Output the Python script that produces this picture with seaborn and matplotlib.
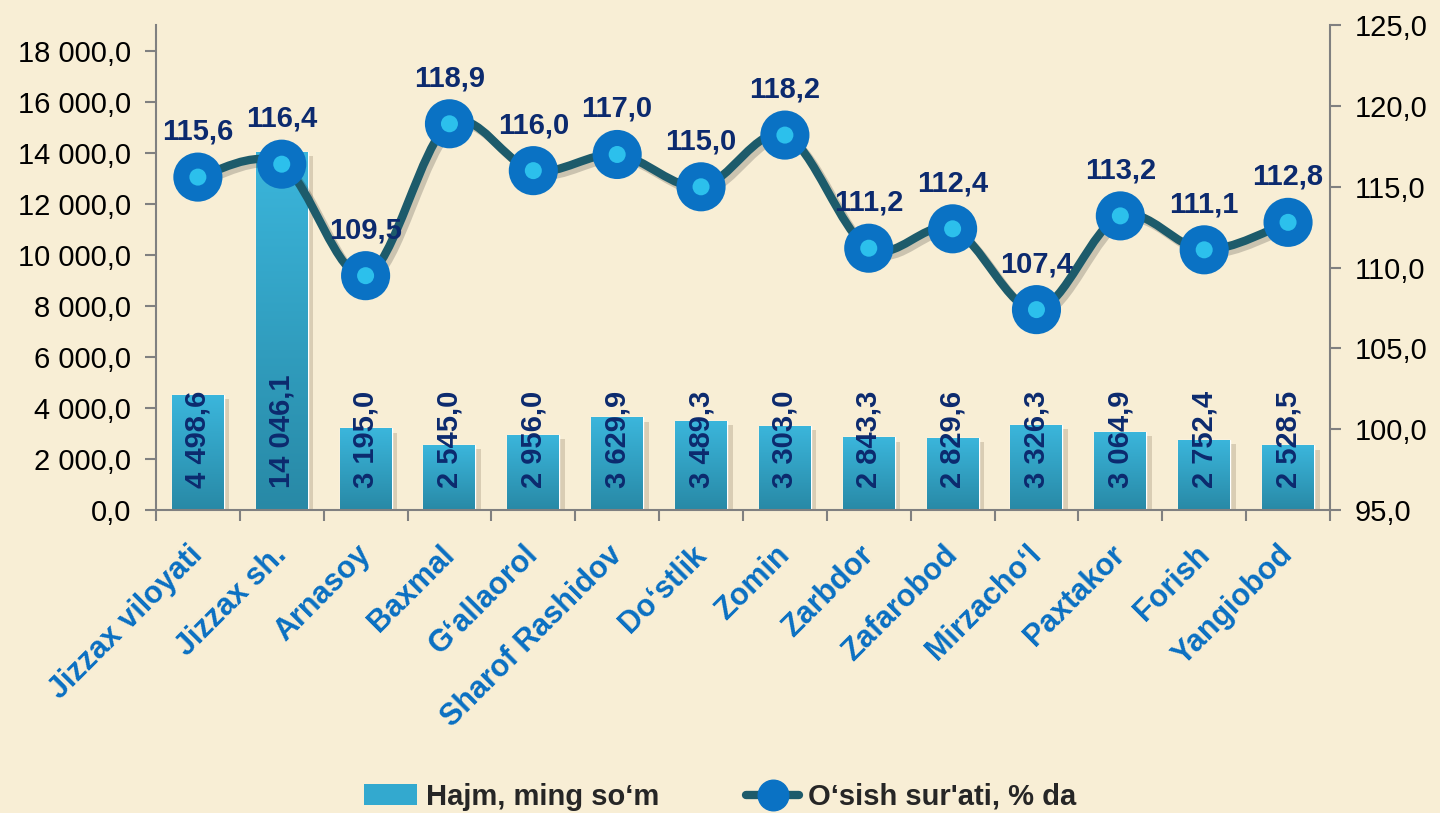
import numpy as np
import pandas as pd
import matplotlib.pyplot as plt
import seaborn as sns
from matplotlib.path import Path
from matplotlib.patches import PathPatch, Patch
from matplotlib.lines import Line2D
from matplotlib.colors import LinearSegmentedColormap
from matplotlib.ticker import FuncFormatter, MultipleLocator
from matplotlib.transforms import ScaledTranslation
import matplotlib.patheffects as pe

districts = ["Jizzax viloyati", "Jizzax sh.", "Arnasoy", "Baxmal", "G‘allaorol",
             "Sharof Rashidov", "Do‘stlik", "Zomin", "Zarbdor", "Zafarobod",
             "Mirzacho‘l", "Paxtakor", "Forish", "Yangiobod"]
volume = [4498.6, 14046.1, 3195.0, 2545.0, 2956.0, 3629.9, 3489.3, 3303.0,
          2843.3, 2829.6, 3326.3, 3064.9, 2752.4, 2528.5]
growth = [115.6, 116.4, 109.5, 118.9, 116.0, 117.0, 115.0, 118.2,
          111.2, 112.4, 107.4, 113.2, 111.1, 112.8]

bar_name = "Hajm, ming so‘m"
line_name = "O‘sish sur'ati, % da"

df = pd.DataFrame({"district": districts, "volume": volume, "growth": growth})

BG = "#f8eed5"
BAR = "#33a9cf"
LINE = "#1d5b6b"
MARK = "#0a72c4"
MARK_IN = "#2cc0ec"
NAVY = "#0c2a6e"
XLAB = "#0a70c2"
SPINE = "#808080"

sns.set_theme(style="white")
plt.rcParams["font.family"] = ["Liberation Sans", "DejaVu Sans"]

fig = plt.figure(figsize=(14.4, 8.13), dpi=100, facecolor=BG)
ax = fig.add_axes([0.1083, 0.3727, 0.8153, 0.5963])
ax.set_facecolor(BG)

sns.barplot(data=df, x="district", y="volume", color=BAR, width=0.62,
            saturation=1, ax=ax, zorder=2)

# vertical gradient fill for every bar, clipped to the bar shape
grad = LinearSegmentedColormap.from_list("bar", ["#2889a6", "#3bb6dc"])
for p in ax.patches:
    p.set_path_effects([pe.SimplePatchShadow(offset=(4, -3), alpha=0.22,
                                             shadow_rgbFace="#6b5a40"),
                        pe.Normal()])
    x0, y0 = p.get_x(), p.get_y()
    w, h = p.get_width(), p.get_height()
    im = ax.imshow(np.linspace(0, 1, 256).reshape(-1, 1), cmap=grad,
                   extent=(x0, x0 + w, y0, y0 + h), origin="lower",
                   aspect="auto", zorder=2.5)
    im.set_clip_path(p)
ax.set_xlim(-0.5, len(districts) - 0.5)
ax.set_ylim(0, 19000)
ax.yaxis.set_major_locator(MultipleLocator(2000))


def space_fmt(v, pos=None):
    s = f"{v:,.1f}".replace(",", " ").replace(".", ",")
    return s


ax.yaxis.set_major_formatter(FuncFormatter(space_fmt))
ax.set_xlabel("")
ax.set_ylabel("")

# bar value labels, rotated, at the base
for i, v in enumerate(volume):
    ax.annotate(space_fmt(v), (i, 0), xytext=(0, 16), textcoords="offset points",
                rotation=90, ha="center", va="bottom", fontsize=21,
                fontweight="bold", color=NAVY, zorder=5)

# secondary axis
ax2 = ax.twinx()
ax2.set_ylim(95, 125)
ax2.yaxis.set_major_locator(MultipleLocator(5))
ax2.yaxis.set_major_formatter(FuncFormatter(lambda v, p: f"{v:.1f}".replace(".", ",")))

# smoothed line (Catmull-Rom as cubic Bezier path)
xs = np.arange(len(growth), dtype=float)
ys = np.array(growth, dtype=float)
verts = [(xs[0], ys[0])]
codes = [Path.MOVETO]
for i in range(len(xs) - 1):
    p0 = np.array([xs[max(i - 1, 0)], ys[max(i - 1, 0)]])
    p1 = np.array([xs[i], ys[i]])
    p2 = np.array([xs[i + 1], ys[i + 1]])
    p3 = np.array([xs[min(i + 2, len(xs) - 1)], ys[min(i + 2, len(xs) - 1)]])
    c1 = p1 + (p2 - p0) / 6
    c2 = p2 - (p3 - p1) / 6
    verts += [tuple(c1), tuple(c2), tuple(p2)]
    codes += [Path.CURVE4] * 3
curve = PathPatch(Path(verts, codes), facecolor="none", edgecolor=LINE, lw=6,
                  zorder=3, capstyle="round", joinstyle="round",
                  path_effects=[pe.SimpleLineShadow(offset=(3, -3), alpha=0.2),
                                pe.Normal()])
ax2.add_patch(curve)

sns.scatterplot(x=xs, y=ys, s=1250, color=MARK, edgecolor="none", ax=ax2,
                zorder=4, legend=False)
sns.scatterplot(x=xs, y=ys, s=150, color=MARK_IN, edgecolor="none", ax=ax2,
                zorder=5, legend=False)

for i, v in enumerate(growth):
    ax2.annotate(f"{v:.1f}".replace(".", ","), (i, v), xytext=(0, 27),
                 textcoords="offset points", ha="center", va="baseline",
                 fontsize=21, fontweight="bold", color=NAVY, zorder=6)

# spines & ticks
for a in (ax, ax2):
    a.spines["top"].set_visible(False)
    for s in ("left", "right", "bottom"):
        a.spines[s].set_color(SPINE)
        a.spines[s].set_linewidth(1.5)
ax.spines["right"].set_visible(False)
ax2.spines["left"].set_visible(False)
ax2.spines["bottom"].set_visible(False)

ax.tick_params(axis="y", which="both", left=True, length=8, width=1.5,
               color=SPINE, labelsize=21, labelcolor="black", pad=10)
ax2.tick_params(axis="y", right=True, length=8, width=1.5, color=SPINE,
                labelsize=21, labelcolor="black", pad=10)

ax.set_xticks(np.arange(len(districts)))
ax.set_xticklabels(districts)
ax.set_xticks(np.arange(len(districts) + 1) - 0.5, minor=True)
ax.tick_params(axis="x", which="major", bottom=False, length=0, pad=12,
               labelsize=22, labelcolor=XLAB)
ax.tick_params(axis="x", which="minor", bottom=True, length=8, width=1.5,
               color=SPINE)
plt.setp(ax.get_xticklabels(), rotation=45, ha="right",
         rotation_mode="anchor", fontweight="bold")
shift = ScaledTranslation(-0.10, -0.13, fig.dpi_scale_trans)
for t in ax.get_xticklabels():
    t.set_transform(t.get_transform() + shift)
ax.grid(False)
ax2.grid(False)

handles = [Patch(facecolor=BAR, edgecolor="none"),
           Line2D([0], [0], color=LINE, lw=6, marker="o", markersize=22,
                  markerfacecolor=MARK, markeredgecolor=MARK)]
leg = fig.legend(handles, [bar_name, line_name], loc="center",
                 bbox_to_anchor=(0.5, 0.02), ncol=2, frameon=False,
                 prop={"size": 21, "weight": "bold"}, handlelength=1.8,
                 handletextpad=0.3, columnspacing=3)

fig.savefig("out.png", dpi=100, facecolor=BG)
